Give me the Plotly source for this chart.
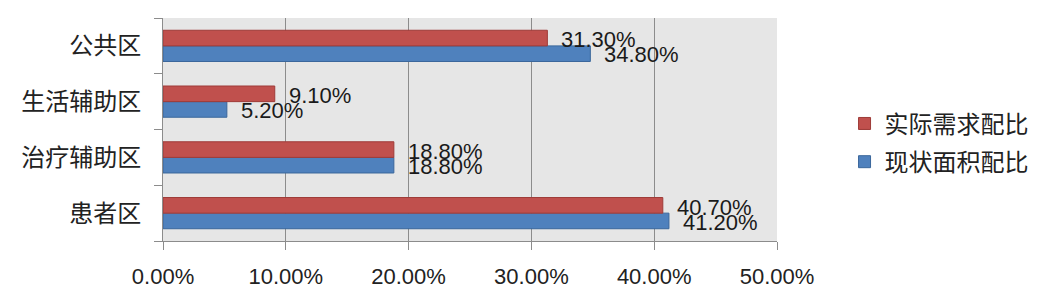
import plotly.graph_objects as go

categories = ["患者区", "治疗辅助区", "生活辅助区", "公共区"]
series_names = ["现状面积配比", "实际需求配比"]
current_ratio = [0.412, 0.188, 0.052, 0.348]   # 现状面积配比 (blue)
demand_ratio = [0.407, 0.188, 0.091, 0.313]    # 实际需求配比 (red)
x_ticks = [0.0, 0.1, 0.2, 0.3, 0.4, 0.5]

BLUE = "#4F81BD"
RED = "#C0504D"
NUM_FONT = "Liberation Sans, Arial, sans-serif"
CJK_FONT = "Noto Sans CJK SC, sans-serif"

fig = go.Figure()
fig.add_trace(go.Bar(
    y=categories, x=current_ratio, orientation="h", name=series_names[0],
    legendgroup="a", legendrank=2,
    marker=dict(color=BLUE, line=dict(color="#3A679B", width=1)),
))
fig.add_trace(go.Bar(
    y=categories, x=demand_ratio, orientation="h", name=series_names[1],
    legendgroup="b", legendrank=1,
    marker=dict(color=RED, line=dict(color="#9E3B38", width=1)),
))

annotations = []
for cat, v in zip(categories, demand_ratio):
    annotations.append(dict(x=v, y=cat, xref="x", yref="y", text=f"{v*100:.2f}%",
                            showarrow=False, xanchor="left", yanchor="middle",
                            xshift=12, yshift=6,
                            font=dict(family=NUM_FONT, size=22, color="#1a1a1a")))
for cat, v in zip(categories, current_ratio):
    annotations.append(dict(x=v, y=cat, xref="x", yref="y", text=f"{v*100:.2f}%",
                            showarrow=False, xanchor="left", yanchor="middle",
                            xshift=12, yshift=-9,
                            font=dict(family=NUM_FONT, size=22, color="#1a1a1a")))

fig.update_layout(
    width=1045, height=301,
    margin=dict(l=163, r=268, t=18, b=56, pad=0),
    paper_bgcolor="white",
    plot_bgcolor="#E6E6E6",
    barmode="group",
    bargap=0.44,
    bargroupgap=0,
    annotations=annotations,
    legend=dict(
        x=1.11, xanchor="left", y=0.44, yanchor="middle",
        traceorder="grouped", tracegroupgap=4,
        font=dict(family=CJK_FONT, size=24, color="#222"),
        bgcolor="rgba(0,0,0,0)",
    ),
    font=dict(family=NUM_FONT, color="#222"),
)
fig.update_xaxes(
    range=[0, 0.5], tickvals=x_ticks, tickformat=".2%",
    showgrid=True, gridcolor="#8C8C8C", gridwidth=1,
    showline=True, linecolor="#8C8C8C", linewidth=1,
    ticks="outside", ticklen=8, tickcolor="#8C8C8C",
    tickfont=dict(family=NUM_FONT, size=22, color="#222"),
    ticklabelstandoff=8, zeroline=False,
)
fig.update_yaxes(
    categoryorder="array", categoryarray=categories,
    showgrid=False, showline=True, linecolor="#8C8C8C", linewidth=1,
    ticks="outside", ticklen=8, tickcolor="#8C8C8C", tickson="boundaries",
    tickfont=dict(family=CJK_FONT, size=24, color="#222"),
    ticklabelstandoff=16,
)

fig.write_html("out.html")
